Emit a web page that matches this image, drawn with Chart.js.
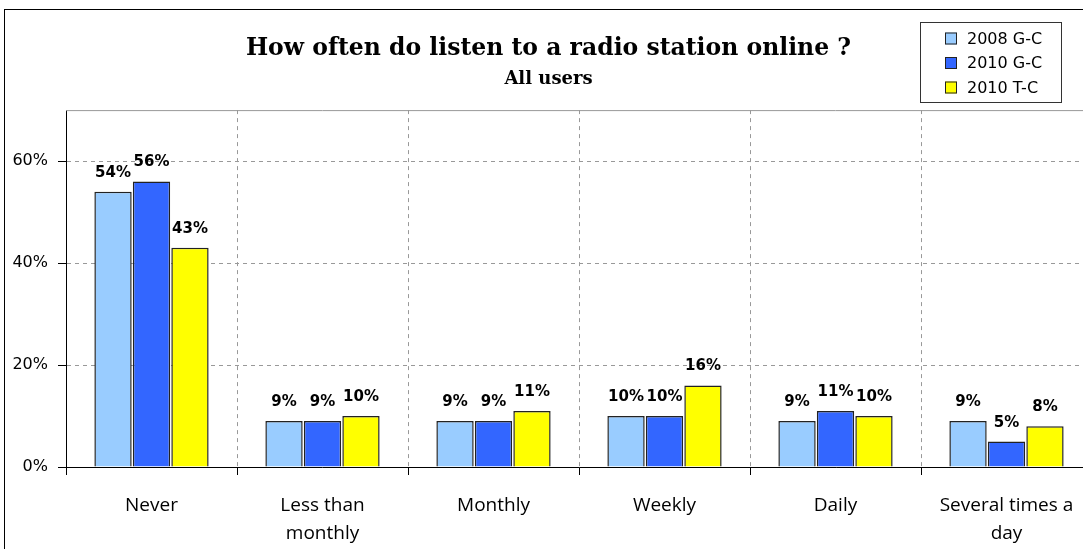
<!DOCTYPE html>
<html lang="en">
<head>
  <meta charset="UTF-8">
  <title>Radio online</title>
  <script src="https://cdn.jsdelivr.net/npm/chart.js"></script>
  <style>
    html, body { margin: 0; padding: 0; background: #fff; overflow: hidden; }
    #frame {
      position: absolute;
      left: 4px;
      top: 9px;
      width: 1100px;
      height: 560px;
      border-left: 1px solid #000;
      border-top: 1px solid #000;
    }
    #chart { display: block; }
  </style>
</head>
<body>
  <div id="frame">
    <canvas id="chart" width="1100" height="560"></canvas>
  </div>

  <script>
    const categories = ['Never', ['Less than', 'monthly'], 'Monthly', 'Weekly', 'Daily', ['Several times a', 'day']];
    const seriesNames = ['2008 G-C', '2010 G-C', '2010 T-C'];
    const gc2008 = [54, 9, 9, 10, 9, 9];
    const gc2010 = [56, 9, 9, 10, 11, 5];
    const tc2010 = [43, 10, 11, 16, 10, 8];
    const yTicks = [0, 20, 40, 60];
    const colors = ['#99ccff', '#3366ff', '#ffff00'];

    // value labels above each bar
    const barLabels = {
      id: 'barLabels',
      afterDatasetsDraw(chart) {
        const ctx = chart.ctx;
        ctx.save();
        ctx.font = 'bold 15px "DejaVu Sans"';
        ctx.fillStyle = '#000';
        ctx.textAlign = 'center';
        ctx.textBaseline = 'alphabetic';
        chart.data.datasets.forEach((ds, i) => {
          chart.getDatasetMeta(i).data.forEach((bar, j) => {
            ctx.fillText(ds.data[j] + '%', bar.x, bar.y - 15);
          });
        });
        ctx.restore();
      }
    };

    // grey line along the top of the plot area
    const plotTop = {
      id: 'plotTop',
      beforeDatasetsDraw(chart) {
        const a = chart.chartArea;
        const ctx = chart.ctx;
        ctx.save();
        ctx.strokeStyle = '#999';
        ctx.lineWidth = 1;
        ctx.beginPath();
        ctx.moveTo(a.left, a.top + 0.5);
        ctx.lineTo(a.right, a.top + 0.5);
        ctx.stroke();
        ctx.restore();
      }
    };

    // boxed legend in the top right corner
    const boxLegend = {
      id: 'boxLegend',
      afterDraw(chart) {
        const ctx = chart.ctx;
        const x = 915, y = 12, w = 141, h = 80;
        ctx.save();
        ctx.fillStyle = '#fff';
        ctx.fillRect(x, y, w, h);
        ctx.strokeStyle = '#333';
        ctx.lineWidth = 1;
        ctx.strokeRect(x + 0.5, y + 0.5, w, h);
        ctx.font = '16px "DejaVu Sans"';
        ctx.textBaseline = 'middle';
        chart.data.datasets.forEach((ds, i) => {
          const cy = y + 16.5 + i * 24.5;
          ctx.fillStyle = ds.backgroundColor;
          ctx.fillRect(x + 25, cy - 6, 12, 12);
          ctx.strokeStyle = '#222';
          ctx.strokeRect(x + 25.5, cy - 5.5, 11, 11);
          ctx.fillStyle = '#000';
          ctx.fillText(ds.label, x + 47, cy + 1);
        });
        ctx.restore();
      }
    };

    new Chart(document.getElementById('chart'), {
      type: 'bar',
      data: {
        labels: categories,
        datasets: [gc2008, gc2010, tc2010].map((d, i) => ({
          label: seriesNames[i],
          data: d,
          backgroundColor: colors[i],
          borderColor: '#222',
          borderWidth: 1.5,
          categoryPercentage: 0.675,
          barPercentage: 0.97
        }))
      },
      options: {
        responsive: false,
        animation: false,
        layout: { padding: { left: 0, right: 13, top: 0, bottom: 0 } },
        plugins: {
          legend: { display: false },
          tooltip: { enabled: false },
          title: {
            display: true,
            text: 'How often do listen to a radio station online ?',
            color: '#000',
            font: { family: 'DejaVu Serif', size: 23.5, weight: 'bold' },
            padding: { top: 24.5, bottom: 5.5 }
          },
          subtitle: {
            display: true,
            text: 'All users',
            color: '#000',
            font: { family: 'DejaVu Serif', size: 18, weight: 'bold' },
            padding: { top: 0, bottom: 20.3 }
          }
        },
        scales: {
          x: {
            grid: {
              offset: true,
              color: '#999',
              tickColor: '#000',
              tickLength: 8,
              tickBorderDash: []
            },
            border: { color: '#000', width: 1, dash: [4, 4] },
            ticks: {
              color: '#000',
              font: { family: 'Open Sans', size: 19, lineHeight: 1.47 },
              padding: 17,
              maxRotation: 0,
              autoSkip: false
            },
            afterFit(scale) { scale.height = 103; }
          },
          y: {
            min: 0,
            max: 70,
            grid: {
              color: '#999',
              tickColor: '#000',
              tickLength: 8,
              tickBorderDash: []
            },
            border: { color: '#000', width: 1, dash: [4, 4] },
            ticks: {
              stepSize: 20,
              color: '#000',
              font: { family: 'DejaVu Sans', size: 16 },
              padding: 10,
              callback: v => v + '%'
            },
            afterBuildTicks(scale) {
              scale.ticks = yTicks.map(v => ({ value: v }));
            },
            afterFit(scale) { scale.width = 61; }
          }
        }
      },
      plugins: [plotTop, barLabels, boxLegend]
    });
  </script>
</body>
</html>
